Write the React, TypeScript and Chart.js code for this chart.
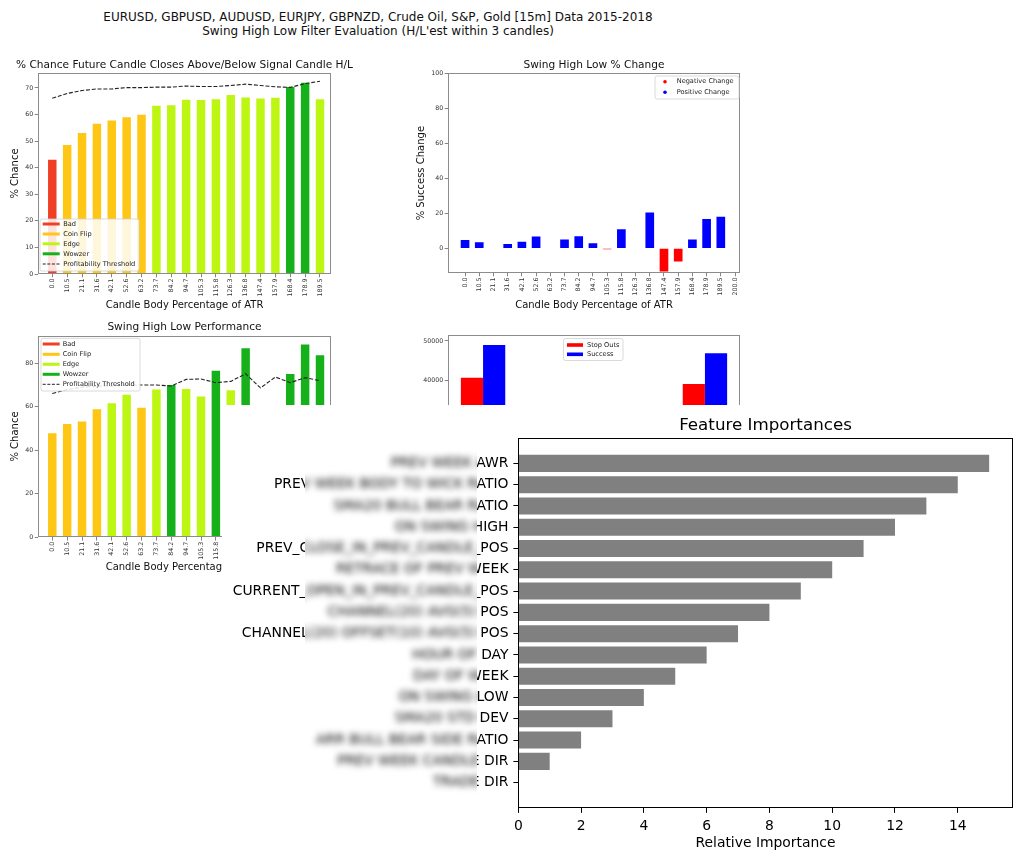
import React, { useEffect, useRef } from 'react';
import { Chart, registerables } from 'chart.js';

Chart.register(...registerables);

const FONT = "'DejaVu Sans', 'Liberation Sans', sans-serif";
Chart.defaults.font.family = FONT;

// ---------- text ----------
const SUPTITLE_LINES = [
  'EURUSD, GBPUSD, AUDUSD, EURJPY, GBPNZD, Crude Oil, S&P, Gold [15m] Data 2015-2018',
  "Swing High Low Filter Evaluation (H/L'est within 3 candles)",
];
const TITLE_CHANCE = '% Chance Future Candle Closes Above/Below Signal Candle H/L';
const TITLE_CHANGE = 'Swing High Low % Change';
const TITLE_PERF = 'Swing High Low Performance';
const TITLE_IMPORTANCE = 'Feature Importances';
const X_TITLE_ATR = 'Candle Body Percentage of ATR';
const Y_TITLE_CHANCE = '% Chance';
const Y_TITLE_CHANGE = '% Success Change';
const X_TITLE_IMPORTANCE = 'Relative Importance';

// ---------- categories ----------
const ATR_BINS = ['0.0', '10.5', '21.1', '31.6', '42.1', '52.6', '63.2', '73.7', '84.2', '94.7', '105.3', '115.8', '126.3', '136.8', '147.4', '157.9', '168.4', '178.9', '189.5'];
const ATR_BINS_CHANGE = ['0.0', '10.5', '21.1', '31.6', '42.1', '52.6', '63.2', '73.7', '84.2', '94.7', '105.3', '115.8', '126.3', '136.8', '147.4', '157.9', '168.4', '178.9', '189.5', '200.0'];

const CLASS_NAMES = ['Bad', 'Coin Flip', 'Edge', 'Wowzer'];
const CLASS_COLORS = ['#ef4026', '#fec615', '#bef614', '#15b01a'];
const THRESHOLD_LABEL = 'Profitability Threshold';

// ---------- top-left: % chance ----------
const CHANCE_VALUES = [43.0, 48.5, 53.0, 56.5, 57.7, 59.0, 59.9, 63.3, 63.5, 65.5, 65.4, 65.7, 67.3, 66.4, 66.0, 66.3, 70.3, 71.9, 65.7];
const CHANCE_CLASS = [0, 1, 1, 1, 1, 1, 1, 2, 2, 2, 2, 2, 2, 2, 2, 2, 3, 3, 2];
const CHANCE_THRESHOLD = [66.1, 67.9, 69.0, 69.6, 69.6, 70.1, 70.1, 70.3, 70.3, 70.7, 70.5, 70.5, 70.9, 71.4, 70.9, 70.4, 70.2, 71.6, 72.5];
const CHANCE_Y_TICKS = [0, 10, 20, 30, 40, 50, 60, 70];

// ---------- top-right: % change ----------
const CHANGE_LABELS = ['Negative Change', 'Positive Change'];
const CHANGE_VALUES = [4.8, 3.4, null, 2.5, 3.8, 6.7, -0.3, 5.0, 6.9, 2.9, -0.6, 10.9, null, 20.4, -13.3, -7.6, 5.1, 16.8, 18.1, null];
const CHANGE_Y_TICKS = [0, 20, 40, 60, 80, 100];

// ---------- bottom-left: performance ----------
const PERF_VALUES = [47.8, 52.1, 53.2, 58.9, 61.6, 65.6, 59.6, 68.0, 70.0, 68.2, 64.8, 76.6, 67.6, 86.9, 52.7, 58.7, 75.1, 88.6, 83.7];
const PERF_CLASS = [1, 1, 1, 1, 2, 2, 1, 2, 3, 2, 2, 3, 2, 3, 1, 1, 3, 3, 3];
const PERF_THRESHOLD = [66.1, 67.9, 69.0, 69.6, 69.6, 70.0, 70.0, 70.0, 69.6, 72.6, 72.8, 71.1, 71.7, 75.2, 68.7, 73.7, 71.1, 73.4, 72.0];
const PERF_Y_TICKS = [0, 20, 40, 60, 80];

// ---------- bottom-right: stop outs vs success ----------
const STOP_GROUPS = ['Highs', 'Lows'];
const STOP_LABELS = ['Stop Outs', 'Success'];
const STOP_OUTS = [40660, 39060];
const SUCCESSES = [49000, 46870];
const STOP_Y_TICKS = [0, 10000, 20000, 30000, 40000, 50000];

// ---------- overlay: feature importances ----------
const FEATURES = [
  'PREV WEEK AWR',
  'PREV WEEK BODY TO WICK RATIO',
  'SMA20 BULL BEAR RATIO',
  'ON SWING HIGH',
  'PREV_CLOSE_IN_PREV_CANDLE_POS',
  'RETRACE OF PREV WEEK',
  'CURRENT_OPEN_IN_PREV_CANDLE_POS',
  'CHANNEL(20) AVG(5) POS',
  'CHANNEL(20) OFFSET(10) AVG(5) POS',
  'HOUR OF DAY',
  'DAY OF WEEK',
  'ON SWING LOW',
  'SMA20 STD DEV',
  'ARR BULL BEAR SIDE RATIO',
  'PREV WEEK CANDLE DIR',
  'TRADE DIR',
];
const IMPORTANCE = [15, 14, 13, 12, 11, 10, 9, 8, 7, 6, 5, 4, 3, 2, 1, 0];
const IMPORTANCE_X_TICKS = [0, 2, 4, 6, 8, 10, 12, 14];

// ---------- plugins ----------
const framePlugin = {
  id: 'mplFrame',
  afterDraw(chart: any, _a: any, o: any) {
    if (!o || !o.color) return;
    const { ctx, chartArea: a } = chart;
    ctx.save();
    ctx.strokeStyle = o.color;
    ctx.lineWidth = o.width;
    const l = Math.round(a.left) + 0.5;
    const t = Math.round(a.top) + 0.5;
    const r = Math.round(a.right) - 0.5;
    const b = Math.round(a.bottom) - 0.5;
    ctx.strokeRect(l, t, r - l, b - t);
    ctx.restore();
  },
};

const legendPlugin = {
  id: 'mplLegend',
  afterDraw(chart: any, _a: any, o: any) {
    if (!o || !o.items) return;
    const ctx = chart.ctx as CanvasRenderingContext2D;
    const ox = o.ox, oy = o.oy;
    const [bx, by, bw, bh] = [o.box[0] - ox, o.box[1] - oy, o.box[2], o.box[3]];
    const rad = 2;
    ctx.save();
    ctx.beginPath();
    ctx.moveTo(bx + rad, by);
    ctx.lineTo(bx + bw - rad, by);
    ctx.quadraticCurveTo(bx + bw, by, bx + bw, by + rad);
    ctx.lineTo(bx + bw, by + bh - rad);
    ctx.quadraticCurveTo(bx + bw, by + bh, bx + bw - rad, by + bh);
    ctx.lineTo(bx + rad, by + bh);
    ctx.quadraticCurveTo(bx, by + bh, bx, by + bh - rad);
    ctx.lineTo(bx, by + rad);
    ctx.quadraticCurveTo(bx, by, bx + rad, by);
    ctx.closePath();
    ctx.fillStyle = 'rgba(255,255,255,0.85)';
    ctx.fill();
    ctx.strokeStyle = '#d0d0d0';
    ctx.lineWidth = 0.8;
    ctx.stroke();
    ctx.font = `${o.fontSize}px ${FONT}`;
    ctx.textBaseline = 'middle';
    ctx.textAlign = 'left';
    const n = o.items.length;
    for (let i = 0; i < n; i++) {
      const it = o.items[i];
      const y = o.rows[i] - oy;
      const hx = o.handleX - ox;
      const hw = o.handleW;
      if (it.kind === 'line') {
        ctx.setLineDash([]);
        ctx.strokeStyle = it.color;
        ctx.lineWidth = 3;
        ctx.beginPath(); ctx.moveTo(hx, y); ctx.lineTo(hx + hw, y); ctx.stroke();
      } else if (it.kind === 'dash') {
        ctx.setLineDash([3, 1.6]);
        ctx.strokeStyle = it.color;
        ctx.lineWidth = 1;
        ctx.beginPath(); ctx.moveTo(hx, y); ctx.lineTo(hx + hw, y); ctx.stroke();
        ctx.setLineDash([]);
      } else if (it.kind === 'dot') {
        ctx.fillStyle = it.color;
        ctx.beginPath(); ctx.arc(hx + hw / 2, y, 1.8, 0, Math.PI * 2); ctx.fill();
      } else {
        ctx.fillStyle = it.color;
        ctx.fillRect(hx, y - 1.8, hw, 3.6);
      }
      ctx.fillStyle = '#222';
      ctx.fillText(it.label, o.textX - ox, y);
    }
    ctx.restore();
  },
};

const blurPlugin = {
  id: 'mplBlur',
  afterDraw(chart: any, _a: any, o: any) {
    if (!o || !o.rect) return;
    const x = o.rect[0], y = o.rect[1], w = o.rect[2], h = o.rect[3];
    const m = 14;
    const ctx = chart.ctx as CanvasRenderingContext2D;
    const src = chart.canvas as HTMLCanvasElement;
    const tmp = document.createElement('canvas');
    tmp.width = w + 2 * m;
    tmp.height = h + 2 * m;
    const t = tmp.getContext('2d');
    if (!t) return;
    t.drawImage(src, x - m, y - m, w + 2 * m, h + 2 * m, 0, 0, w + 2 * m, h + 2 * m);
    ctx.save();
    ctx.setTransform(1, 0, 0, 1, 0, 0);
    ctx.beginPath();
    ctx.rect(x, y, w, h);
    ctx.clip();
    ctx.clearRect(x, y, w, h);
    ctx.filter = `blur(${o.radius}px)`;
    ctx.drawImage(tmp, x - m, y - m);
    ctx.restore();
  },
};

Chart.register(framePlugin, legendPlugin, blurPlugin);

// ---------- helpers ----------
const TICK_COLOR = '#333';
const SPINE = '#8c8c8c';
const SMALL = 6.3;

function subTitle(text: string, pt: number, pb: number) {
  return {
    display: true, text, fullSize: true, color: '#111',
    font: { family: FONT, size: 10.6, weight: 'normal' as const },
    padding: { top: pt, bottom: pb },
  };
}

// invisible right-hand spacer axis, keeps the plot box symmetric under a full-width title
function spacerAxis(width: number) {
  return {
    type: 'linear' as const, position: 'right' as const, display: true,
    afterFit: (s: any) => { s.width = width; },
    ticks: { display: false },
    grid: { display: false },
    border: { display: false },
  };
}

function atrAxis(labels: string[], min: number, max: number, height: number, titlePad: number) {
  return {
    type: 'linear' as const, min, max, offset: false, bounds: 'data' as const,
    afterBuildTicks: (s: any) => { s.ticks = labels.map((_, i) => ({ value: i })); },
    afterFit: (s: any) => { s.height = height; },
    ticks: {
      autoSkip: false, minRotation: 90, maxRotation: 90, padding: 1.2, color: TICK_COLOR,
      font: { family: FONT, size: SMALL },
      callback: (v: any) => labels[Math.round(Number(v))],
    },
    grid: { offset: false, drawOnChartArea: false, drawTicks: true, tickLength: 3.3, color: '#666', lineWidth: 0.8 },
    border: { display: false },
    title: { display: true, text: X_TITLE_ATR, color: '#111', font: { family: FONT, size: 10 }, padding: { top: 0, bottom: titlePad } },
  };
}

function valueAxis(ticks: number[], min: number, max: number, width: number, title: string | null, titlePad: number) {
  return {
    type: 'linear' as const, position: 'left' as const, min, max, bounds: 'data' as const,
    afterBuildTicks: (s: any) => { s.ticks = ticks.map((v) => ({ value: v })); },
    afterFit: (s: any) => { s.width = width; },
    ticks: { autoSkip: false, padding: 1.5, color: TICK_COLOR, font: { family: FONT, size: SMALL }, callback: (v: any) => String(v) },
    grid: { drawOnChartArea: false, drawTicks: true, tickLength: 3.3, color: '#666', lineWidth: 0.8 },
    border: { display: false },
    title: title
      ? { display: true, text: title, color: '#111', font: { family: FONT, size: 10 }, padding: { top: titlePad, bottom: 0 } }
      : { display: false },
  };
}

function classLegend(ox: number, oy: number, box: number[], rows: number[], handleX: number, textX: number) {
  return {
    ox, oy, box, rows, handleX, handleW: 17, textX, fontSize: 6.6,
    items: [
      ...CLASS_NAMES.map((label, i) => ({ label, kind: 'line', color: CLASS_COLORS[i] })),
      { label: THRESHOLD_LABEL, kind: 'dash', color: '#222' },
    ],
  };
}

// canvas placements (page coordinates)
const POS_A = { left: 0, top: 50, w: 369, h: 264 };
const POS_B = { left: 410, top: 50, w: 368, h: 264 };
const POS_C = { left: 0, top: 312, w: 369, h: 265 };
const POS_D = { left: 410, top: 312, w: 345, h: 265 };
const POS_E = { left: 222, top: 405, w: 802, h: 456 };

function chanceConfig(): any {
  return {
    type: 'bar',
    data: {
      datasets: [
        {
          type: 'line', label: THRESHOLD_LABEL, order: 0,
          data: CHANCE_THRESHOLD.map((y, i) => ({ x: i, y })),
          borderColor: '#222', borderWidth: 1.1, borderDash: [4, 1.8], pointRadius: 0, fill: false, tension: 0,
        },
        {
          type: 'bar', label: Y_TITLE_CHANCE, order: 1,
          data: CHANCE_VALUES.map((y, i) => ({ x: i, y })),
          backgroundColor: CHANCE_CLASS.map((c) => CLASS_COLORS[c]),
          borderWidth: 0, barPercentage: 0.57, categoryPercentage: 1,
        },
      ],
    },
    options: {
      animation: false, responsive: false, devicePixelRatio: 1,
      layout: { padding: 0 },
      plugins: {
        legend: { display: false }, tooltip: { enabled: false },
        title: subTitle(TITLE_CHANCE, 8.64, 1.64),
        mplFrame: { color: SPINE, width: 1 },
        mplLegend: classLegend(POS_A.left, POS_A.top, [40, 219, 99, 52], [224, 234, 243.8, 253.8, 264], 42.7, 63.3),
      },
      scales: {
        x: atrAxis(ATR_BINS, -0.96, 18.74, 40, 2.5),
        y: valueAxis(CHANCE_Y_TICKS, 0, 75.6, 38, Y_TITLE_CHANCE, 9.5),
        yR: spacerAxis(38),
      },
    },
  };
}

function changeConfig(): any {
  const neg = CHANGE_VALUES.map((v, i) => ({ x: i, y: v !== null && v < 0 ? v : null }));
  const pos = CHANGE_VALUES.map((v, i) => ({ x: i, y: v !== null && v >= 0 ? v : null }));
  return {
    type: 'bar',
    data: {
      datasets: [
        { label: CHANGE_LABELS[0], data: neg, backgroundColor: '#ff0000', borderWidth: 0, grouped: false, barPercentage: 0.61, categoryPercentage: 1 },
        { label: CHANGE_LABELS[1], data: pos, backgroundColor: '#0000ff', borderWidth: 0, grouped: false, barPercentage: 0.61, categoryPercentage: 1 },
      ],
    },
    options: {
      animation: false, responsive: false, devicePixelRatio: 1,
      layout: { padding: 0 },
      plugins: {
        legend: { display: false }, tooltip: { enabled: false },
        title: subTitle(TITLE_CHANGE, 8.64, 1.94),
        mplFrame: { color: SPINE, width: 1 },
        mplLegend: {
          ox: POS_B.left, oy: POS_B.top, box: [655, 76, 84, 23], rows: [81.7, 92.3], handleX: 660, handleW: 10, textX: 676.7, fontSize: 6.6,
          items: [
            { label: CHANGE_LABELS[0], kind: 'dot', color: '#ff0000' },
            { label: CHANGE_LABELS[1], kind: 'dot', color: '#0000ff' },
          ],
        },
      },
      scales: {
        x: atrAxis(ATR_BINS_CHANGE, -1.2, 19.35, 41, 3),
        y: valueAxis(CHANGE_Y_TICKS, -14.1, 100, 38, Y_TITLE_CHANGE, 5.7),
        yR: spacerAxis(38),
      },
    },
  };
}

function perfConfig(): any {
  return {
    type: 'bar',
    data: {
      datasets: [
        {
          type: 'line', label: THRESHOLD_LABEL, order: 0,
          data: PERF_THRESHOLD.map((y, i) => ({ x: i, y })),
          borderColor: '#222', borderWidth: 1.1, borderDash: [4, 1.8], pointRadius: 0, fill: false, tension: 0,
        },
        {
          type: 'bar', label: Y_TITLE_CHANCE, order: 1,
          data: PERF_VALUES.map((y, i) => ({ x: i, y })),
          backgroundColor: PERF_CLASS.map((c) => CLASS_COLORS[c]),
          borderWidth: 0, barPercentage: 0.57, categoryPercentage: 1,
        },
      ],
    },
    options: {
      animation: false, responsive: false, devicePixelRatio: 1,
      layout: { padding: 0 },
      plugins: {
        legend: { display: false }, tooltip: { enabled: false },
        title: subTitle(TITLE_PERF, 8.64, 2.34),
        mplFrame: { color: SPINE, width: 1 },
        mplLegend: classLegend(POS_C.left, POS_C.top, [41, 338.3, 99, 52.7], [344, 354.3, 364.3, 374.3, 384.3], 42.7, 62.7),
      },
      scales: {
        x: atrAxis(ATR_BINS, -0.96, 18.74, 39.7, 3.3),
        y: valueAxis(PERF_Y_TICKS, 0, 92.7, 38, Y_TITLE_CHANCE, 9.5),
        yR: spacerAxis(38),
      },
    },
  };
}

function stopsConfig(): any {
  return {
    type: 'bar',
    data: {
      datasets: [
        { label: STOP_LABELS[0], data: STOP_OUTS.map((y, i) => ({ x: i, y })), backgroundColor: '#ff0000', borderWidth: 0, barPercentage: 1, categoryPercentage: 0.2 },
        { label: STOP_LABELS[1], data: SUCCESSES.map((y, i) => ({ x: i, y })), backgroundColor: '#0000ff', borderWidth: 0, barPercentage: 1, categoryPercentage: 0.2 },
      ],
    },
    options: {
      animation: false, responsive: false, devicePixelRatio: 1,
      layout: { padding: { left: 0, right: 15, top: 23.3, bottom: 0 } },
      plugins: {
        legend: { display: false }, tooltip: { enabled: false },
        mplFrame: { color: SPINE, width: 1 },
        mplLegend: {
          ox: POS_D.left, oy: POS_D.top, box: [563.5, 338.5, 59.5, 22], rows: [345, 354.3], handleX: 567, handleW: 16, textX: 587, fontSize: 6.6,
          items: [
            { label: STOP_LABELS[0], kind: 'patch', color: '#ff0000' },
            { label: STOP_LABELS[1], kind: 'patch', color: '#0000ff' },
          ],
        },
      },
      scales: {
        x: {
          type: 'linear', min: -0.158, max: 1.158, offset: false, bounds: 'data',
          afterBuildTicks: (s: any) => { s.ticks = STOP_GROUPS.map((_, i) => ({ value: i })); },
          afterFit: (s: any) => { s.height = 39.5; },
          ticks: { display: false, callback: (v: any) => STOP_GROUPS[Math.round(Number(v))] },
          grid: { offset: false, drawOnChartArea: false, drawTicks: true, tickLength: 3.3, color: '#666', lineWidth: 0.8 },
          border: { display: false },
        },
        y: valueAxis(STOP_Y_TICKS, 0, 51450, 38, null, 0),
      },
    },
  };
}

function importanceConfig(): any {
  return {
    type: 'bar',
    data: {
      datasets: [
        {
          label: X_TITLE_IMPORTANCE,
          data: IMPORTANCE.map((x, i) => ({ x, y: i })),
          backgroundColor: '#808080', borderWidth: 0, barPercentage: 0.8, categoryPercentage: 1,
        },
      ],
    },
    options: {
      indexAxis: 'y',
      animation: false, responsive: false, devicePixelRatio: 1,
      layout: { padding: { left: 0, right: 11.3, top: 0, bottom: 0 } },
      plugins: {
        legend: { display: false }, tooltip: { enabled: false },
        title: {
          display: true, text: TITLE_IMPORTANCE, fullSize: false, color: '#000',
          font: { family: FONT, size: 16.7, weight: 'normal' }, padding: { top: 10.5, bottom: 2.5 },
        },
        mplFrame: { color: '#000', width: 1 },
        mplBlur: { rect: [305 - POS_E.left, 450 - POS_E.top, 172, 345], radius: 3 },
      },
      scales: {
        x: {
          type: 'linear', min: 0, max: 15.75, bounds: 'data',
          afterBuildTicks: (s: any) => { s.ticks = IMPORTANCE_X_TICKS.map((v) => ({ value: v })); },
          afterFit: (s: any) => { s.height = 53; },
          ticks: { autoSkip: false, padding: 4.9, color: '#000', font: { family: FONT, size: 13.9 } },
          grid: { drawOnChartArea: false, drawTicks: true, tickLength: 4.9, color: '#000', lineWidth: 1 },
          border: { display: false },
          title: { display: true, text: X_TITLE_IMPORTANCE, color: '#000', font: { family: FONT, size: 13.9 }, padding: { top: 0, bottom: 9.0 } },
        },
        y: {
          type: 'linear', min: -1.19, max: 16.19, reverse: true, offset: false, bounds: 'data',
          afterBuildTicks: (s: any) => { s.ticks = FEATURES.map((_, i) => ({ value: i })); },
          afterFit: (s: any) => { s.width = 296.3; },
          ticks: {
            autoSkip: false, padding: 4.9, color: '#000', font: { family: FONT, size: 13.9 },
            callback: (v: any) => FEATURES[Math.round(Number(v))],
          },
          grid: { offset: false, drawOnChartArea: false, drawTicks: true, tickLength: 4.9, color: '#000', lineWidth: 1 },
          border: { display: false },
        },
      },
    },
  };
}

export default function App() {
  const refA = useRef<HTMLCanvasElement>(null);
  const refB = useRef<HTMLCanvasElement>(null);
  const refC = useRef<HTMLCanvasElement>(null);
  const refD = useRef<HTMLCanvasElement>(null);
  const refE = useRef<HTMLCanvasElement>(null);

  useEffect(() => {
    const charts: Chart[] = [];
    if (refA.current) charts.push(new Chart(refA.current, chanceConfig()));
    if (refB.current) charts.push(new Chart(refB.current, changeConfig()));
    if (refC.current) charts.push(new Chart(refC.current, perfConfig()));
    if (refD.current) charts.push(new Chart(refD.current, stopsConfig()));
    if (refE.current) charts.push(new Chart(refE.current, importanceConfig()));
    return () => { charts.forEach((c) => c.destroy()); };
  }, []);

  const cv = (p: { left: number; top: number; w: number; h: number }, bg?: string): React.CSSProperties => ({
    position: 'absolute', left: p.left, top: p.top, width: p.w, height: p.h, background: bg || 'transparent', display: 'block',
  });

  return (
    <div style={{ position: 'absolute', left: 0, top: 0, width: 1024, height: 861, background: '#fff', overflow: 'hidden', fontFamily: FONT }}>
      <div style={{ position: 'absolute', left: 0, top: 10.4, width: 756, textAlign: 'center', fontSize: 12, lineHeight: '14px', color: '#111', whiteSpace: 'nowrap' }}>
        {SUPTITLE_LINES.map((l) => <div key={l}>{l}</div>)}
      </div>
      <canvas ref={refA} width={POS_A.w} height={POS_A.h} style={cv(POS_A)} />
      <canvas ref={refB} width={POS_B.w} height={POS_B.h} style={cv(POS_B)} />
      <canvas ref={refC} width={POS_C.w} height={POS_C.h} style={cv(POS_C)} />
      <canvas ref={refD} width={POS_D.w} height={POS_D.h} style={cv(POS_D)} />
      <canvas ref={refE} width={POS_E.w} height={POS_E.h} style={cv(POS_E, '#ffffff')} />
    </div>
  );
}
